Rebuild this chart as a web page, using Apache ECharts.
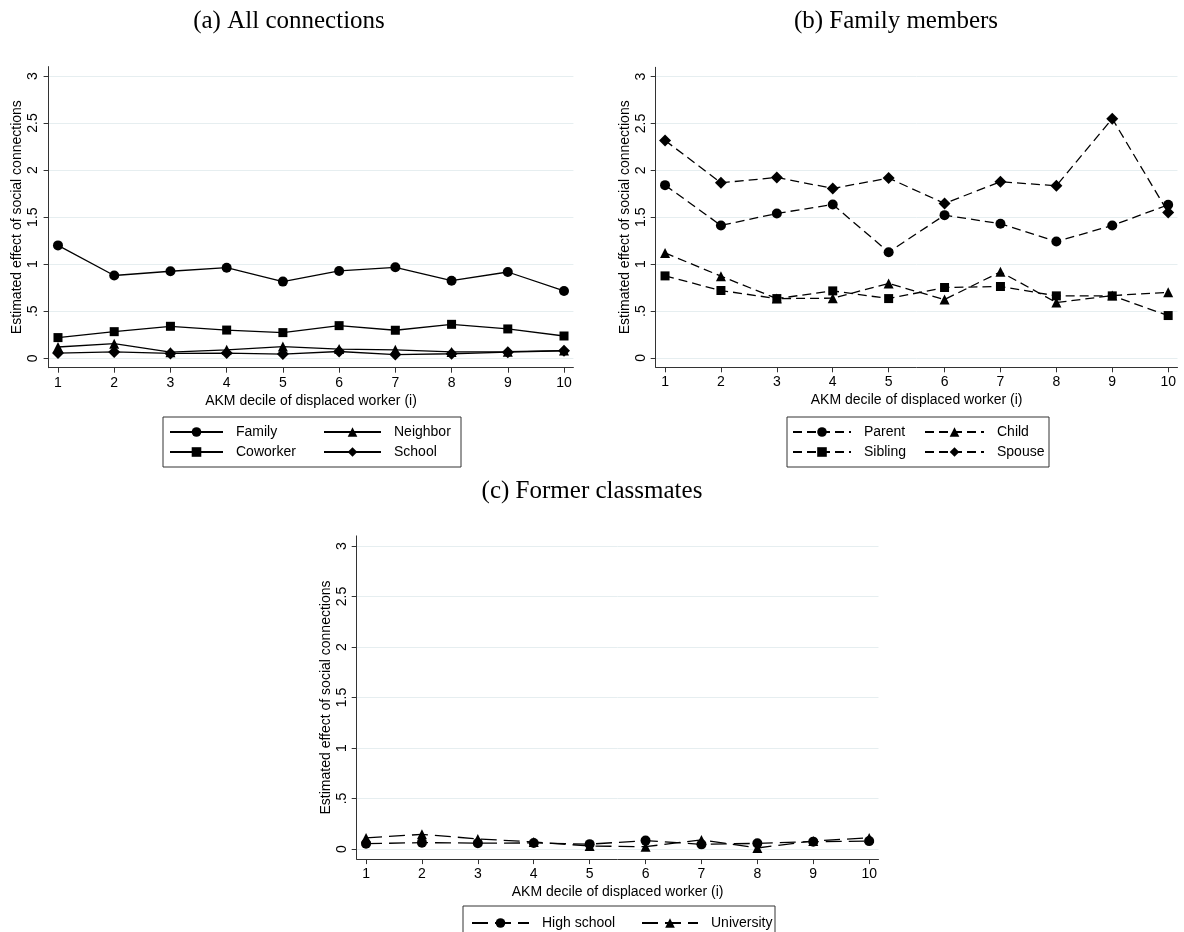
<!DOCTYPE html>
<html>
<head>
<meta charset="utf-8">
<script src="https://cdn.jsdelivr.net/npm/echarts@6/dist/echarts.min.js"></script>
<style>
html, body { margin: 0; padding: 0; background: #fff; }
#chart { width: 1184px; height: 932px; }
</style>
</head>
<body>
<div id="chart"></div>
<script>
// data
var deciles = [1, 2, 3, 4, 5, 6, 7, 8, 9, 10];
var yTicks = [0, 0.5, 1, 1.5, 2, 2.5, 3];

// (a) all connections
var family   = [1.20, 0.88, 0.925, 0.963, 0.815, 0.928, 0.967, 0.825, 0.917, 0.716];
var coworker = [0.22, 0.283, 0.34, 0.30, 0.273, 0.347, 0.298, 0.361, 0.312, 0.237];
var neighbor = [0.12, 0.155, 0.065, 0.09, 0.125, 0.098, 0.09, 0.068, 0.07, 0.082];
var school   = [0.055, 0.068, 0.052, 0.055, 0.045, 0.072, 0.04, 0.048, 0.065, 0.08];

// (b) family members
var parent  = [1.843, 1.413, 1.541, 1.637, 1.128, 1.523, 1.431, 1.242, 1.413, 1.633];
var child   = [1.12, 0.872, 0.633, 0.637, 0.794, 0.623, 0.918, 0.59, 0.665, 0.70];
var sibling = [0.875, 0.719, 0.633, 0.715, 0.633, 0.751, 0.762, 0.662, 0.662, 0.452];
var spouse  = [2.32, 1.868, 1.925, 1.808, 1.918, 1.648, 1.879, 1.836, 2.552, 1.552];

// (c) former classmates
var highSchool = [0.053, 0.063, 0.058, 0.06, 0.048, 0.083, 0.046, 0.056, 0.073, 0.078];
var university = [0.11, 0.145, 0.10, 0.07, 0.03, 0.023, 0.09, 0.01, 0.08, 0.11];

var sans = 'Liberation Sans';
var serif = 'Liberation Serif';
var axisCol = '#333';
var gridCol = '#e6eef0';

function pairs(vals) {
    return deciles.map(function (d, i) { return [d, vals[i]]; });
}

function xAx(idx) {
    return {
        type: 'value', gridIndex: idx, min: 0.833, max: 10.167,
        name: 'AKM decile of displaced worker (i)', nameLocation: 'middle', nameGap: 26,
        nameTextStyle: { fontFamily: sans, fontSize: 14, color: '#000' },
        axisLine: { onZero: false, lineStyle: { color: axisCol, width: 1 } },
        axisTick: { length: 5, customValues: deciles, lineStyle: { color: axisCol } },
        axisLabel: { customValues: deciles, margin: 8, fontFamily: sans, fontSize: 14, color: '#000' },
        splitLine: { show: false }
    };
}

function yAx(idx) {
    return {
        type: 'value', gridIndex: idx, min: -0.1, max: 3.1,
        name: 'Estimated effect of social connections', nameLocation: 'middle', nameGap: 24, nameRotate: 90,
        nameTextStyle: { fontFamily: sans, fontSize: 14, color: '#000' },
        axisLine: { show: true, onZero: false, lineStyle: { color: axisCol, width: 1 } },
        axisTick: { show: true, length: 5, customValues: yTicks, lineStyle: { color: axisCol } },
        axisLabel: {
            customValues: yTicks, rotate: 90, margin: 8, fontFamily: sans, fontSize: 14, color: '#000',
            formatter: function (v) { return String(v).replace(/^0\./, '.'); }
        },
        splitLine: { show: true, lineStyle: { color: gridCol, width: 1 } }
    };
}

function line(name, vals, idx, symbol, size, dash) {
    return {
        name: name, type: 'line', xAxisIndex: idx, yAxisIndex: idx,
        data: pairs(vals),
        symbol: symbol, symbolSize: size, showAllSymbol: true,
        itemStyle: { color: '#000' },
        lineStyle: { color: '#000', width: 1.3, type: dash },
        emphasis: { disabled: true },
        animation: false
    };
}

function leg(names, left, top, w) {
    return {
        data: names, orient: 'vertical', left: left, top: top, padding: 0,
        itemWidth: w, itemHeight: 12, itemGap: 6, selectedMode: false,
        textStyle: { fontFamily: sans, fontSize: 14, color: '#000', padding: [0, 0, 0, 8] }
    };
}

var shortDash = [9, 5];
var longDash = [16, 7];

var option = {
    backgroundColor: '#fff',
    animation: false,
    grid: [
        { left: 48.6, top: 66.6, width: 524.8, height: 301.1 },
        { left: 655.7, top: 67.3, width: 521.8, height: 300 },
        { left: 356.7, top: 535.9, width: 521.8, height: 323.2 }
    ],
    xAxis: [xAx(0), xAx(1), xAx(2)],
    yAxis: [yAx(0), yAx(1), yAx(2)],
    legend: [
        leg(['Family', 'Coworker'], 169, 425, 53),
        leg(['Neighbor', 'School'], 323, 425, 57),
        leg(['Parent', 'Sibling'], 792, 425, 58),
        leg(['Child', 'Spouse'], 924, 425, 59),
        leg(['High school'], 471, 916, 57),
        leg(['University'], 641, 916, 56)
    ],
    graphic: [
        { type: 'text', x: 289, y: 21, style: { text: '(a) All connections', font: '25px ' + serif, fill: '#000', textAlign: 'center', textVerticalAlign: 'middle' } },
        { type: 'text', x: 896, y: 21, style: { text: '(b) Family members', font: '25px ' + serif, fill: '#000', textAlign: 'center', textVerticalAlign: 'middle' } },
        { type: 'text', x: 592, y: 491, style: { text: '(c) Former classmates', font: '25px ' + serif, fill: '#000', textAlign: 'center', textVerticalAlign: 'middle' } },
        { type: 'rect', shape: { x: 163, y: 417, width: 298, height: 50 }, style: { fill: 'none', stroke: axisCol, lineWidth: 1 } },
        { type: 'rect', shape: { x: 787, y: 417, width: 262, height: 50 }, style: { fill: 'none', stroke: axisCol, lineWidth: 1 } },
        { type: 'rect', shape: { x: 463, y: 906, width: 312, height: 40 }, style: { fill: 'none', stroke: axisCol, lineWidth: 1 } }
    ],
    series: [
        line('Family', family, 0, 'circle', 10, 'solid'),
        line('Coworker', coworker, 0, 'rect', 9, 'solid'),
        line('Neighbor', neighbor, 0, 'triangle', 10, 'solid'),
        line('School', school, 0, 'diamond', 12, 'solid'),
        line('Parent', parent, 1, 'circle', 10, shortDash),
        line('Child', child, 1, 'triangle', 10, shortDash),
        line('Sibling', sibling, 1, 'rect', 9, shortDash),
        line('Spouse', spouse, 1, 'diamond', 12, shortDash),
        line('High school', highSchool, 2, 'circle', 10, longDash),
        line('University', university, 2, 'triangle', 10, longDash)
    ]
};

var myChart = echarts.init(document.getElementById('chart'), null, { renderer: 'canvas' });
myChart.setOption(option);
</script>
</body>
</html>
